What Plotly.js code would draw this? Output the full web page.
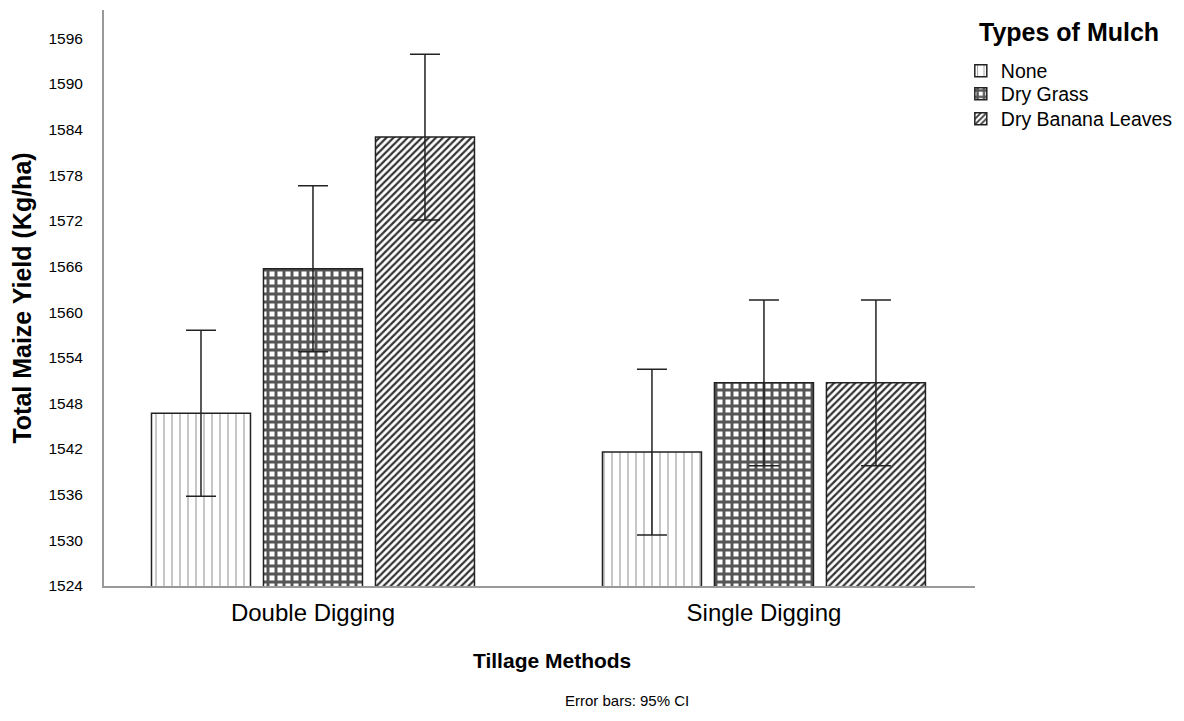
<!DOCTYPE html>
<html><head><meta charset="utf-8">
<script src="https://cdn.plot.ly/plotly-3.0.1.min.js"></script>
<style>body{margin:0;background:#fff}#chart{width:1184px;height:721px}</style>
</head><body><div id="chart"></div>
<script>
const categories = ["Double Digging", "Single Digging"];
const seriesNames = ["None", "Dry Grass", "Dry Banana Leaves"];
const noneVals = [1546.7, 1541.6];
const grassVals = [1565.7, 1550.7];
const bananaVals = [1583.0, 1550.7];
const noneCI = [10.9, 10.9];
const grassCI = [10.9, 10.9];
const bananaCI = [10.9, 10.9];
const yTicks = [1524,1530,1536,1542,1548,1554,1560,1566,1572,1578,1584,1590,1596];

const patterns = [
  {shape:"|", size:8, solidity:0.12, fgcolor:"#8a8a8a", bgcolor:"#fff", fillmode:"replace"},
  {shape:"+", size:8, solidity:0.6, fgcolor:"#555", bgcolor:"#fff", fillmode:"replace"},
  {shape:"/", size:5, solidity:0.45, fgcolor:"#333", bgcolor:"#fff", fillmode:"replace"}
];
const legendIds = ["legend", "legend2", "legend3"];
const vals = [noneVals, grassVals, bananaVals];
const cis = [noneCI, grassCI, bananaCI];
const traces = seriesNames.map((n,i)=>({
  type:"bar", name:n, x:categories, y:vals[i], legend:legendIds[i],
  marker:{color:"#fff", pattern:patterns[i], line:{color:"#222", width:1.5}},
  error_y:{type:"data", array:cis[i], visible:true, color:"#222", thickness:1.5, width:15}
}));

const F = "Liberation Sans, Arial, sans-serif";
const legBase = {x:0.8115, xanchor:"left", yanchor:"middle", xref:"container", yref:"container",
  font:{size:19.5, family:F}, itemwidth:30, bgcolor:"rgba(0,0,0,0)"};
const legendYs = [0.9015, 0.8696, 0.835];
const layout = {
  width:1184, height:721,
  margin:{l:104, r:209, t:10, b:135, autoexpand:false},
  paper_bgcolor:"#fff", plot_bgcolor:"#fff",
  barmode:"group", bargap:0.255, bargroupgap:0.116,
  font:{family:F, color:"#000"},
  xaxis:{
    range:[-0.4634, 1.468], showline:true, linecolor:"#999", linewidth:2,
    ticks:"", tickfont:{size:24, family:F}, ticklabelstandoff:4, showgrid:false, zeroline:false
  },
  yaxis:{
    range:[1524, 1599.7], showline:true, linecolor:"#999", linewidth:2,
    tickvals:yTicks, ticktext:yTicks.map(String), ticks:"", ticklabelstandoff:16,
    tickfont:{size:15.5, family:F}, showgrid:false, zeroline:false,
    title:{text:"<b>Total Maize Yield (Kg/ha)</b>", font:{size:25, family:F}, standoff:10}
  },
  showlegend:true,
  legend:Object.assign({}, legBase, {y:legendYs[0]}),
  legend2:Object.assign({}, legBase, {y:legendYs[1]}),
  legend3:Object.assign({}, legBase, {y:legendYs[2]}),
  annotations:[
    {text:"<b>Tillage Methods</b>", xref:"paper", yref:"paper", x:0.514, y:-0.130,
     xanchor:"center", yanchor:"middle", showarrow:false, font:{size:21, family:F}},
    {text:"<b>Types of Mulch</b>", xref:"paper", yref:"paper", x:1.108, y:0.962,
     xanchor:"center", yanchor:"middle", showarrow:false, font:{size:25, family:F}},
    {text:"Error bars: 95% CI", xref:"paper", yref:"paper", x:0.6, y:-0.198,
     xanchor:"center", yanchor:"middle", showarrow:false, font:{size:15, family:F}}
  ]
};
Plotly.newPlot("chart", traces, layout, {displayModeBar:false, staticPlot:true});
</script></body></html>
